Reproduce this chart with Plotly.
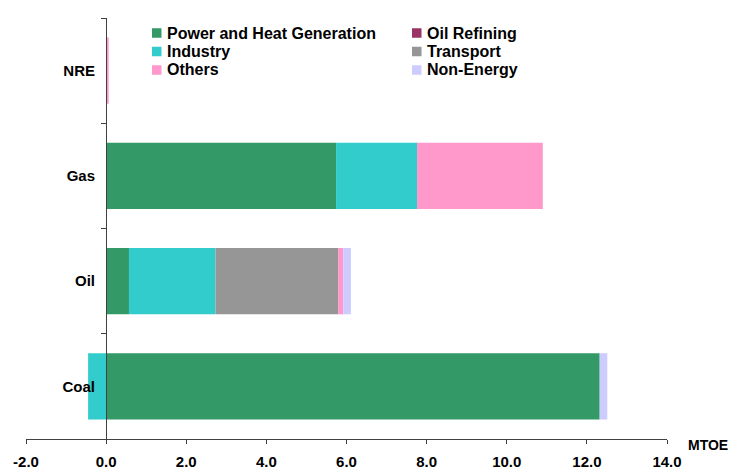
import plotly.graph_objects as go

# Final energy consumption by fuel and sector (MTOE)
fuels = ["Coal", "Oil", "Gas", "NRE"]

power_heat = [12.32, 0.57, 5.74, 0.0]
oil_refining = [0.0, 0.0, 0.0, 0.0]
industry = [-0.45, 2.16, 2.02, 0.0]
transport = [0.0, 3.06, 0.0, 0.0]
others = [0.0, 0.13, 3.14, 0.065]
non_energy = [0.19, 0.19, 0.0, 0.0]

x_ticks = [-2, 0, 2, 4, 6, 8, 10, 12, 14]
x_tick_text = ["-2.0", "0.0", "2.0", "4.0", "6.0", "8.0", "10.0", "12.0", "14.0"]

series = [
    ("Power and Heat Generation", power_heat, "#339966"),
    ("Oil Refining", oil_refining, "#993366"),
    ("Industry", industry, "#33CCCC"),
    ("Transport", transport, "#969696"),
    ("Others", others, "#FF99CC"),
    ("Non-Energy", non_energy, "#CCCCFF"),
]

FONT = "Liberation Sans, Arial, sans-serif"
AXIS_COLOR = "#404040"

W, H = 732, 470
ML, MR, MT, MB = 26, 65, 18, 31
PW, PH = W - ML - MR, H - MT - MB


def px_x(px):
    return (px - ML) / PW


def px_y(py):
    return (H - MB - py) / PH


fig = go.Figure()
for name, vals, color in series:
    fig.add_trace(go.Bar(
        y=fuels, x=vals, name=name, orientation="h",
        marker=dict(color=color, line=dict(width=0)),
        showlegend=False,
    ))

# Two-column key drawn in paper coordinates (row-major, like the trace order)
shapes, annotations = [], []
col_x = [152, 412]
row_y = [33, 51.5, 70]
for i, (name, _, color) in enumerate(series):
    cx = col_x[i % 2]
    cy = row_y[i // 2]
    shapes.append(dict(
        type="rect", xref="paper", yref="paper",
        x0=px_x(cx), x1=px_x(cx + 9.5), y0=px_y(cy + 4.75), y1=px_y(cy - 4.75),
        fillcolor=color, line=dict(width=0), layer="above",
    ))
    annotations.append(dict(
        text=name, xref="paper", yref="paper",
        x=px_x(cx + 13), y=px_y(cy), xanchor="left", yanchor="middle",
        showarrow=False,
        font=dict(family=FONT, size=16, color="black", weight="bold"),
    ))

annotations.append(dict(
    text="MTOE", xref="paper", yref="paper",
    x=px_x(686), y=px_y(445), xanchor="left", yanchor="middle",
    showarrow=False,
    font=dict(family=FONT, size=14, color="black", weight="bold"),
))

fig.update_layout(
    width=W, height=H,
    margin=dict(l=ML, r=MR, t=MT, b=MB),
    barmode="relative",
    bargap=0.37,
    plot_bgcolor="white",
    paper_bgcolor="white",
    font=dict(family=FONT, size=13, color="black"),
    xaxis=dict(
        range=[-2, 14], tickvals=x_ticks, ticktext=x_tick_text,
        showgrid=False, zeroline=False,
        showline=True, linecolor=AXIS_COLOR, linewidth=1,
        ticks="outside", ticklen=4, tickcolor=AXIS_COLOR,
        tickfont=dict(family=FONT, size=15, color="black", weight="bold"),
        ticklabelstandoff=5,
        domain=[0, 1],
        automargin=False,
    ),
    yaxis=dict(
        categoryorder="array", categoryarray=fuels,
        anchor="free", position=px_x(106),
        showgrid=False, zeroline=False,
        showline=True, linecolor=AXIS_COLOR, linewidth=1,
        ticks="outside", ticklen=5, tickcolor=AXIS_COLOR,
        tickson="boundaries",
        tickfont=dict(family=FONT, size=15, color="black", weight="bold"),
        ticklabelstandoff=8,
        automargin=False,
    ),
    shapes=shapes,
    annotations=annotations,
)

fig.write_html("out.html")
